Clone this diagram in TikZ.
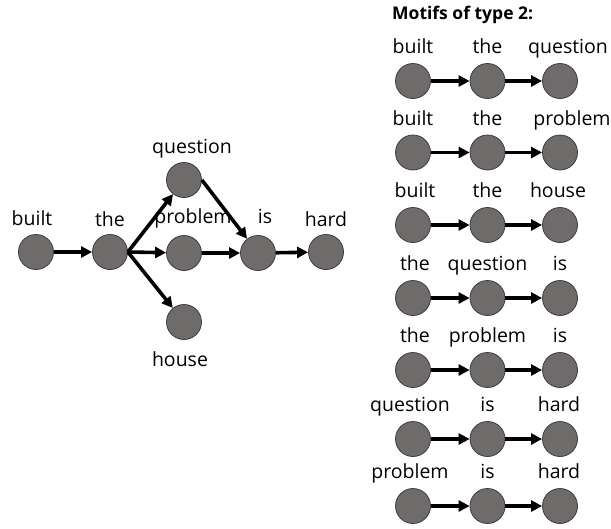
\documentclass[tikz,border=0pt]{standalone}
\usepackage{fontspec}
\setmainfont{Open Sans}
\usepackage{tikz}
\usetikzlibrary{arrows.meta}
\usetikzlibrary{positioning}

\definecolor{nodegray}{RGB}{111,107,107}
\definecolor{rimgray}{RGB}{60,60,60}

\begin{document}
\begin{tikzpicture}[x=1pt,y=-1pt,
    ->,>={Triangle[length=11pt,width=11pt]},
    main node/.style={circle,draw=rimgray,line width=0.8pt,fill=nodegray,minimum size=35pt,inner sep=0pt},
    link/.style={line width=3.6pt},
    word/.style={anchor=base,inner sep=0pt,font=\fontsize{19.5}{21}\selectfont}]

        \useasboundingbox (0,0) rectangle (611,528);

        % sentence graph
        \node[main node] (built)    at (36,252)  {};
        \node[main node] (the)      at (110,252) {};
        \node[main node] (question) at (184,180) {};
        \node[main node] (problem)  at (184,253) {};
        \node[main node] (house)    at (184,322) {};
        \node[main node] (is)       at (258,253) {};
        \node[main node] (hard)     at (326,252) {};

        \node[word] (lbuilt)    at (32,225)    {built};
        \node[word] (lthe)      at (110,226)   {the};
        \node[word] (lquestion) at (192,153.5) {question};
        \node[word] (lproblem)  at (193,223)   {problem};
        \node[word] (lis)       at (265,223)   {is};
        \node[word] (lhard)     at (326,226)   {hard};
        \node[word] (lhouse)    at (180,366)   {house};

          \path[link]
            (built)        edge (the)
            (the.east)     edge (question)
                           edge (problem)
                           edge (house)
            (question.east) edge (is)
            (problem)      edge (is)
            (is)           edge (hard);

        % motifs
        \node[anchor=base west,inner sep=0pt,font=\fontsize{17.5}{20}\selectfont\bfseries] (title) at (392,19.5) {Motifs of type 2:};

        \foreach \i/\y/\a/\b/\c/\ax/\cx in {1/81/built/the/question/413/568,
                                   2/152.5/built/the/problem/413/572,
                                   3/225/built/the/house/415/558,
                                   4/298/the/question/is/415/560,
                                   5/370/the/problem/is/415/560,
                                   6/439/question/is/hard/410/559,
                                   7/506/problem/is/hard/410/559} {
            \node[main node] (m\i a) at (413,\y)   {};
            \node[main node] (m\i b) at (487.5,\y) {};
            \node[main node] (m\i c) at (560,\y)   {};
            \node[word] (l\i a) at (\ax,\y-27.5)  {\a};
            \node[word] (l\i b) at (487.5,\y-27.5) {\b};
            \node[word] (l\i c) at (\cx,\y-27.5)  {\c};
            \path[link] (m\i a) edge (m\i b)
                        (m\i b) edge (m\i c);
        }
\end{tikzpicture}
\end{document}
